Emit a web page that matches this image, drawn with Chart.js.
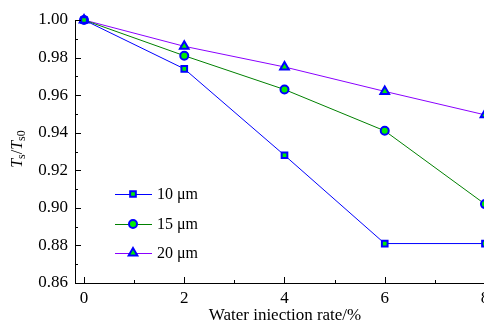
<!DOCTYPE html>
<html><head><meta charset="utf-8">
<script src="https://cdn.jsdelivr.net/npm/chart.js@4/dist/chart.umd.min.js"></script>
<style>html,body{margin:0;padding:0;background:#fff;overflow:hidden;}#wrap{width:520px;height:327px;}</style>
</head><body><div id="wrap"><canvas id="c" width="520" height="327"></canvas></div>
<script>
const rates = [0, 2, 4, 6, 8];
const xTicks = [0, 2, 4, 6, 8];
const yTicks = [0.86, 0.88, 0.90, 0.92, 0.94, 0.96, 0.98, 1.00];
const s10 = [1.000, 0.974, 0.928, 0.881, 0.881];
const s15 = [1.000, 0.981, 0.963, 0.941, 0.902];
const s20 = [1.000, 0.986, 0.975, 0.962, 0.9495];
const names = ['10 μm', '15 μm', '20 μm'];

const FONT = 'Liberation Serif';
const mk = (vals, name, lineColor, style, r) => ({
  label: name,
  data: rates.map((x, i) => ({x, y: vals[i]})),
  borderColor: lineColor, borderWidth: 1,
  pointStyle: style, pointRadius: r, pointHoverRadius: r,
  pointBackgroundColor: '#00ee00', pointBorderColor: '#0000ff', pointBorderWidth: 2,
  fill: false, tension: 0, clip: false
});

const ticksPlugin = {
  id: 'inticks',
  afterDraw(chart) {
    const {ctx, chartArea: a, scales: {x, y}} = chart;
    ctx.save();
    ctx.strokeStyle = '#000'; ctx.lineWidth = 1;
    ctx.beginPath();
    for (let v = 0; v <= 8; v += 1) {
      const px = Math.round(x.getPixelForValue(v)) + 0.5;
      const len = (v % 2 === 0) ? 6 : 3;
      ctx.moveTo(px, a.bottom); ctx.lineTo(px, a.bottom - len);
    }
    for (let k = 0; k <= 14; k++) {
      const v = 0.86 + k * 0.01;
      const py = Math.round(y.getPixelForValue(v)) + 0.5;
      const len = (k % 2 === 0) ? 6 : 3;
      ctx.moveTo(a.left, py); ctx.lineTo(a.left + len, py);
    }
    ctx.stroke();

    // Y title
    ctx.translate(22, 149);
    ctx.rotate(-Math.PI / 2);
    ctx.fillStyle = '#000';
    ctx.textBaseline = 'alphabetic';
    const parts = [
      ['italic 16px ' + FONT, 'T', 0],
      ['12px ' + FONT, 's', 3],
      ['16px ' + FONT, '/', 0],
      ['italic 16px ' + FONT, 'T', 0],
      ['12px ' + FONT, 's0', 3]
    ];
    let w = 0;
    parts.forEach(p => { ctx.font = p[0]; w += ctx.measureText(p[1]).width; });
    let cx = -w / 2;
    parts.forEach(p => { ctx.font = p[0]; ctx.fillText(p[1], cx, p[2]); cx += ctx.measureText(p[1]).width; });
    ctx.setTransform(1,0,0,1,0,0);

    // Legend
    const ys = [194, 224, 253];
    chart.data.datasets.forEach((ds, i) => {
      const yy = ys[i];
      ctx.strokeStyle = ds.borderColor; ctx.lineWidth = 1;
      ctx.beginPath(); ctx.moveTo(115, yy + 0.5); ctx.lineTo(152, yy + 0.5); ctx.stroke();
      ctx.fillStyle = ds.pointBackgroundColor; ctx.strokeStyle = ds.pointBorderColor; ctx.lineWidth = 2;
      Chart.helpers.drawPoint(ctx, {pointStyle: ds.pointStyle, radius: ds.pointRadius, borderWidth: 2}, 133, yy);
      ctx.fillStyle = '#000';
      ctx.font = '16px ' + FONT;
      ctx.textBaseline = 'middle';
      ctx.fillText(ds.label, 157, yy + 1);
    });
    ctx.restore();
  }
};

new Chart(document.getElementById('c'), {
  type: 'line',
  data: { datasets: [
    mk(s10, names[0], '#0000ff', 'rect', 4),
    mk(s15, names[1], '#008000', 'circle', 4),
    mk(s20, names[2], '#8a00ff', 'triangle', 5)
  ]},
  options: {
    responsive: false, animation: false,
    layout: { padding: { top: 20, right: 25, left: 0, bottom: 0 } },
    plugins: { legend: { display: false }, tooltip: { enabled: false } },
    scales: {
      x: {
        type: 'linear', min: -0.18, max: 8.2,
        afterBuildTicks: s => { s.ticks = xTicks.map(v => ({value: v})); },
        afterFit: s => { s.height = 44; },
        grid: { display: false, drawTicks: false },
        border: { display: true, color: '#000', width: 1 },
        ticks: { color: '#000', font: { family: FONT, size: 17 }, padding: 5, maxRotation: 0 },
        title: { display: true, text: 'Water iniection rate/%', color: '#000', font: { family: FONT, size: 17 }, padding: { top: 0, bottom: 1 } }
      },
      y: {
        type: 'linear', min: 0.86, max: 1.0,
        afterBuildTicks: s => { s.ticks = yTicks.map(v => ({value: v})); },
        afterFit: s => { s.width = 75; },
        grid: { display: false, drawTicks: false },
        border: { display: true, color: '#000', width: 1 },
        ticks: { color: '#000', font: { family: FONT, size: 17 }, padding: 7, callback: v => v.toFixed(2) }
      }
    }
  },
  plugins: [ticksPlugin]
});
</script></body></html>
